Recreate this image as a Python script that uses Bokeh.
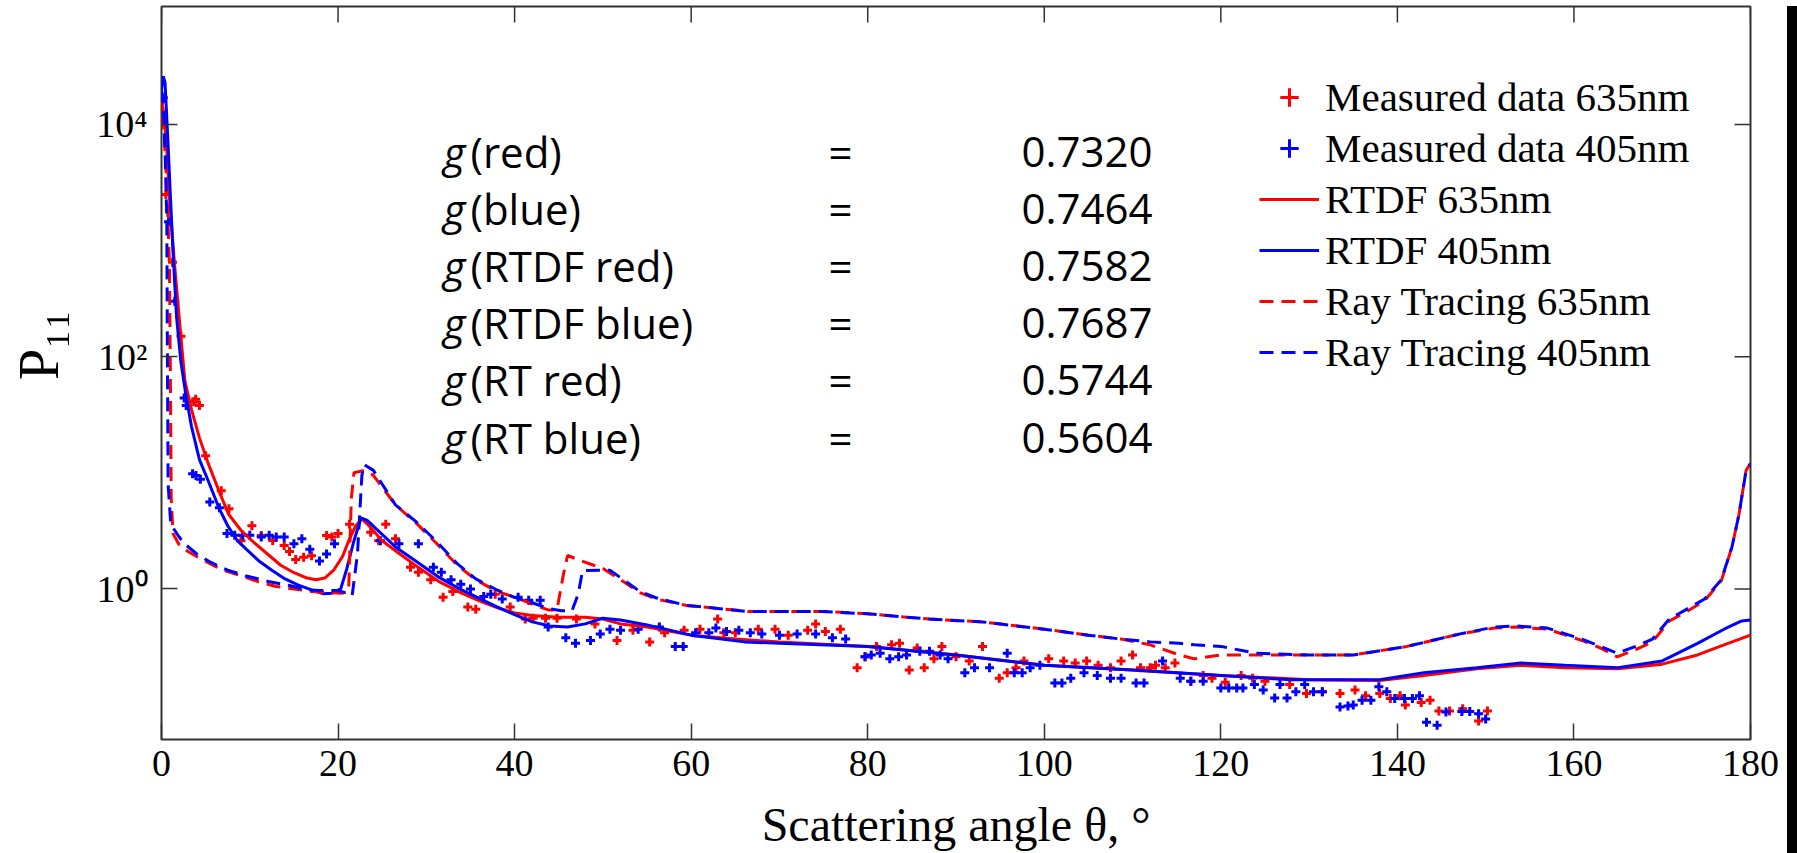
import math
from bokeh.plotting import figure
from bokeh.layouts import row
from bokeh.models import Range1d, FixedTicker, Label, Legend, LegendItem, Div
from bokeh.embed import file_html
from bokeh.resources import INLINE

# ---------------- data ----------------
RTDF_RED_THETA = [0, 0.3, 0.6, 0.85, 1.0, 1.5, 2.1, 2.65, 3.4, 4.3, 5.3, 6.5, 7.6, 9.0, 10.5, 12.0, 13.5,
                  15.0, 16.5, 17.5, 18.5, 19.5, 20.5, 21.3, 22.0, 22.7, 23.5, 25.0, 27.0, 29.0, 31.5, 34.0,
                  36.0, 38.0, 40.0, 42.0, 45.0, 48.0, 50.0, 52.0, 55.0, 60.0, 65.0, 70.0, 80.0, 90.0, 100.0,
                  110.0, 120.0, 130.0, 138.0, 143.0, 149.0, 154.0, 159.0, 165.0, 170.0, 174.0, 177.0, 180.0]
RTDF_RED_P = [16000, 12000, 6000, 2700, 1800, 600, 180, 62, 35, 20, 12, 7.0, 4.4, 3.2, 2.5, 2.0, 1.6,
              1.38, 1.24, 1.2, 1.24, 1.45, 1.9, 2.7, 3.5, 4.0, 3.5, 2.6, 2.0, 1.55, 1.15, 0.92,
              0.79, 0.69, 0.62, 0.59, 0.57, 0.57, 0.55, 0.50, 0.47, 0.40, 0.37, 0.35, 0.32, 0.27, 0.22,
              0.20, 0.18, 0.165, 0.163, 0.18, 0.205, 0.22, 0.21, 0.205, 0.225, 0.27, 0.33, 0.40]

RTDF_BLUE_THETA = [0, 0.2, 0.4, 0.7, 1.0, 1.3, 1.7, 2.2, 2.8, 3.4, 4.3, 5.3, 6.5, 7.5, 8.6, 9.6, 11.0, 12.5,
                   14.0, 15.5, 17.0, 18.3, 19.3, 20.3, 21.0, 21.8, 22.6, 23.3, 24.5, 26.5, 29.0, 31.5, 34.0,
                   36.0, 38.0, 40.0, 42.0, 44.0, 46.0, 48.0, 50.0, 52.0, 55.0, 60.0, 66.0, 70.0, 80.0, 90.0,
                   100.0, 110.0, 120.0, 128.0, 138.0, 143.0, 149.0, 154.0, 159.0, 165.0, 170.0, 174.0,
                   177.0, 179.0, 180.0]
RTDF_BLUE_P = [20000, 26000, 23000, 8000, 2500, 800, 222, 90, 45, 25, 13, 8.5, 5.0, 3.5, 2.6, 2.2, 1.75, 1.45,
               1.22, 1.08, 0.98, 0.91, 0.92, 1.0, 1.5, 2.6, 4.1, 3.9, 3.2, 2.3, 1.7, 1.25, 0.98,
               0.83, 0.70, 0.60, 0.52, 0.48, 0.47, 0.50, 0.56, 0.54, 0.49, 0.40, 0.35, 0.34, 0.32, 0.27,
               0.22, 0.20, 0.18, 0.165, 0.165, 0.19, 0.21, 0.23, 0.22, 0.21, 0.24, 0.34,
               0.45, 0.53, 0.54]

RT_RED_THETA = [0, 0.3, 0.6, 0.9, 1.0, 1.1, 1.3, 2.0, 3.0, 4.0, 5.5, 7.0, 9.0, 11.0, 13.0, 15.0, 17.0, 19.0,
                20.5, 21.2, 21.5, 21.8, 23.0, 24.0, 26.5, 29.0, 31.3, 33.5, 35.6, 38.0, 40.0, 42.0, 43.8,
                44.8, 45.5, 46.0, 47.5, 50.0, 52.0, 54.2, 56.0, 59.5, 63.0, 66.4, 70.0, 75.0, 80.0, 87.0,
                93.0, 100.0, 105.0, 108.7, 112.0, 115.3, 117.0, 120.0, 123.9, 130.0, 135.0, 141.1, 147.1,
                151.0, 153.4, 157.0, 160.9, 163.0, 164.9, 167.0, 168.9, 170.8, 172.5, 174.8, 176.7, 177.9,
                178.7, 179.5, 180.0]
RT_RED_P = [12000, 8000, 3000, 600, 80, 6, 3.0, 2.4, 2.1, 1.9, 1.65, 1.45, 1.3, 1.15, 1.05, 1.0, 0.95, 0.93,
            0.92, 0.95, 6.0, 10.0, 10.5, 9.5, 5.3, 3.6, 2.4, 1.6, 1.2, 0.95, 0.85, 0.74, 0.66,
            0.66, 1.3, 1.94, 1.75, 1.5, 1.2, 0.93, 0.82, 0.72, 0.68, 0.64, 0.64, 0.64, 0.61, 0.55,
            0.52, 0.45, 0.40, 0.37, 0.33, 0.27, 0.25, 0.27, 0.27, 0.27, 0.27, 0.32, 0.41,
            0.46, 0.47, 0.45, 0.36, 0.31, 0.26, 0.30, 0.35, 0.53, 0.62, 0.79, 1.18, 2.3,
            4.4, 10.5, 12]

RT_BLUE_THETA = [0, 0.2, 0.4, 0.6, 0.65, 0.75, 1.05, 2.0, 2.57, 4.0, 5.6, 7.5, 9.5, 12.1, 14.5, 16.4, 18.0,
                 19.9, 21.0, 21.6, 22.2, 22.7, 22.95, 24.0, 26.5, 29.0, 31.3, 33.5, 35.6, 38.0, 39.9, 42.0,
                 43.8, 45.3, 46.5, 47.2, 47.7, 50.8, 52.0, 54.2, 56.0, 59.5, 63.0, 66.4, 70.0, 75.0, 80.0,
                 87.0, 93.0, 100.0, 105.0, 108.7, 112.0, 115.3, 117.0, 120.0, 123.9, 130.0, 135.0, 141.1,
                 147.1, 151.0, 153.4, 157.0, 160.9, 163.0, 164.9, 167.0, 168.9, 170.8, 172.5, 174.8, 176.7,
                 177.9, 178.7, 179.5, 180.0]
RT_BLUE_P = [20000, 15000, 6000, 1500, 200, 8, 3.6, 2.8, 2.46, 2.0, 1.69, 1.45, 1.3, 1.16, 1.07, 0.98, 0.97,
             0.97, 0.92, 0.88, 2.0, 9.5, 11.8, 10.5, 5.3, 3.7, 2.5, 1.65, 1.22, 0.98, 0.85, 0.76,
             0.68, 0.65, 0.65, 0.9, 1.44, 1.45, 1.25, 0.95, 0.84, 0.72, 0.68, 0.64, 0.64, 0.64, 0.61,
             0.55, 0.52, 0.45, 0.40, 0.37, 0.35, 0.34, 0.33, 0.32, 0.28, 0.27, 0.27, 0.32,
             0.41, 0.47, 0.48, 0.46, 0.37, 0.32, 0.28, 0.32, 0.37, 0.55, 0.65, 0.82, 1.2,
             2.3, 4.4, 10.5, 12]

MEAS_RED_THETA = [0.1, 0.5, 1.25, 2.2, 3.65, 3.87, 4.3, 5.0, 6.77, 7.64, 9.0, 10.24, 11.3, 12.6, 13.9, 14.5,
                  15.2, 16.1, 17.0, 18.7, 19.3, 20.0, 21.3, 23.7, 24.6, 25.4, 26.5, 28.2, 29.1, 30.5, 31.9,
                  33.0, 34.7, 35.6, 37.8, 39.5, 41.2, 42.1, 43.5, 44.8, 47.0, 49.1, 51.6, 53.4, 55.3, 57.0,
                  59.2, 61.0, 63.0, 63.7, 65.0, 67.6, 69.5, 71.0, 73.2, 74.1, 75.2, 76.9, 78.8, 79.7, 81.0,
                  82.7, 83.6, 84.7, 85.6, 86.4, 87.5, 88.4, 90.0, 91.5, 93.0, 94.9, 95.8, 96.8, 97.7, 100.5,
                  102.2, 103.5, 104.8, 106.1, 107.5, 108.7, 110.0, 110.9, 112.0, 112.6, 113.7, 114.8, 116.6,
                  118.0, 119.0, 120.5, 122.3, 123.6, 125.0, 127.8, 129.7, 131.5, 133.5, 135.2, 136.4, 138.0,
                  139.2, 140.3, 140.9, 142.7, 143.7, 144.7, 145.9, 147.4, 149.2, 150.2]
MEAS_RED_P = [16000, 2500, 650, 150, 41, 43, 38, 14, 7.0, 4.9, 2.6, 3.5, 2.88, 2.61, 2.37, 2.1,
              1.79, 1.87, 1.93, 2.88, 2.8, 3.0, 3.6, 3.08, 2.6, 3.6, 2.7, 1.54, 1.39, 1.2, 0.85,
              0.95, 0.70, 0.67, 0.90, 0.70, 0.55, 0.56, 0.56, 0.56, 0.55, 0.50, 0.36, 0.44, 0.35, 0.42,
              0.44, 0.45, 0.55, 0.42, 0.42, 0.45, 0.45, 0.40, 0.44, 0.50, 0.43, 0.45, 0.21, 0.26, 0.32,
              0.33, 0.34, 0.20, 0.31, 0.21, 0.25, 0.32, 0.26, 0.24, 0.32, 0.17, 0.19, 0.21, 0.24, 0.25,
              0.24, 0.23, 0.24, 0.22, 0.21, 0.24, 0.27, 0.21, 0.21, 0.22, 0.21, 0.23, 0.16,
              0.18, 0.17, 0.157, 0.18, 0.17, 0.16, 0.15, 0.126, 0.13, 0.126, 0.135, 0.12, 0.126,
              0.114, 0.12, 0.10, 0.105, 0.11, 0.089, 0.089, 0.093, 0.073, 0.089]

MEAS_BLUE_THETA = [0.2, 0.8, 1.5, 2.57, 2.8, 3.52, 3.9, 4.4, 5.47, 6.56, 7.42, 8.3, 9.2, 10.0, 11.3, 12.2, 13.0,
                   13.9, 15.0, 15.9, 16.8, 17.9, 18.7, 19.6, 24.8, 26.9, 29.1, 30.8, 31.7, 32.8, 33.9, 35.0,
                   36.5, 37.3, 38.6, 40.4, 41.6, 42.9, 43.8, 45.8, 46.9, 48.6, 49.7, 50.8, 52.0, 54.0, 56.4,
                   58.2, 59.1, 60.5, 62.0, 62.8, 64.0, 65.4, 66.7, 68.0, 70.0, 72.0, 74.1, 76.0, 77.5, 79.7,
                   80.4, 81.4, 82.5, 83.5, 84.4, 85.9, 87.0, 88.2, 89.1, 91.0, 92.1, 93.8, 95.8, 96.6, 97.5,
                   98.4, 99.5, 101.2, 102.0, 103.0, 104.5, 106.0, 107.5, 108.7, 110.4, 111.3, 113.4, 115.4,
                   116.6, 118.0, 120.0, 120.9, 121.8, 122.5, 123.8, 124.8, 126.1, 126.7, 127.5, 128.5, 129.5,
                   130.5, 131.5, 133.5, 134.4, 135.0, 136.0, 137.0, 137.9, 138.8, 139.7, 140.8, 141.7, 142.5,
                   143.3, 144.5, 145.5, 147.3, 148.2, 149.2, 150.0]
MEAS_BLUE_P = [17000, 1450, 300, 44, 38, 9.8, 9.5, 8.8, 5.6, 5.0, 3.0, 2.9, 2.9, 2.9, 2.8, 2.9, 2.8,
               2.8, 2.45, 2.7, 2.2, 1.74, 2.0, 2.45, 2.6, 2.45, 2.45, 1.54, 1.39, 1.2, 1.1, 1.0,
               0.86, 0.90, 0.82, 0.85, 0.80, 0.80, 0.47, 0.38, 0.34, 0.36, 0.41, 0.45, 0.44, 0.45, 0.47,
               0.32, 0.32, 0.42, 0.42, 0.46, 0.43, 0.44, 0.42, 0.41, 0.40, 0.41, 0.41, 0.38, 0.37, 0.26,
               0.27, 0.28, 0.25, 0.26, 0.27, 0.29, 0.29, 0.27, 0.25, 0.19, 0.21, 0.21, 0.28, 0.19, 0.19,
               0.21, 0.22, 0.155, 0.155, 0.17, 0.19, 0.18, 0.17, 0.17, 0.155, 0.155, 0.24, 0.17,
               0.16, 0.16, 0.14, 0.14, 0.14, 0.14, 0.15, 0.135, 0.115, 0.15, 0.115, 0.13, 0.15,
               0.13, 0.13, 0.096, 0.098, 0.10, 0.11, 0.11, 0.144, 0.13, 0.114, 0.114, 0.114, 0.12,
               0.071, 0.067, 0.087, 0.088, 0.088, 0.084, 0.076]

X_TICKS = [0, 20, 40, 60, 80, 100, 120, 140, 160, 180]
Y_TICKS = [1, 100, 10000]
Y_TICK_LABELS = {1: "10⁰", 100: "10²", 10000: "10⁴"}
G_NAMES = ["(red)", "(blue)", "(RTDF red)", "(RTDF blue)", "(RT red)", "(RT blue)"]
G_VALUES = ["0.7320", "0.7464", "0.7582", "0.7687", "0.5744", "0.5604"]
LEGEND_LABELS = ["Measured data 635nm", "Measured data 405nm", "RTDF 635nm", "RTDF 405nm",
                 "Ray Tracing 635nm", "Ray Tracing 405nm"]
X_LABEL = "Scattering angle θ, °"
Y_LABEL = "P₁₁"

RED = "#ff0000"
BLUE = "#0000ff"
AX = "#333333"
SERIF = "Liberation Serif"
SANS = "Open Sans"

# ---------------- figure (page coordinates = figure coordinates) ----------------
FIG_W, FIG_H = 1787, 853
FRAME_L, FRAME_R, FRAME_T, FRAME_B = 161, 1750, 6, 739
X0, X1 = 0, 180
Y0, Y1 = 0.0505, 1.038e5
TICK = 16

p = figure(width=FIG_W, height=FIG_H, y_axis_type="log",
           x_range=Range1d(X0, X1), y_range=Range1d(Y0, Y1),
           output_backend="svg", toolbar_location=None,
           min_border_left=FRAME_L, min_border_right=FIG_W - FRAME_R,
           min_border_top=FRAME_T, min_border_bottom=FIG_H - FRAME_B)
p.xgrid.grid_line_color = None
p.ygrid.grid_line_color = None
p.outline_line_color = AX
p.outline_line_width = 2
p.background_fill_color = "white"
p.border_fill_color = "white"

DX_PER_PX = (X1 - X0) / (FRAME_R - FRAME_L)
DLOG_PER_PX = (math.log10(Y1) - math.log10(Y0)) / (FRAME_B - FRAME_T)


def px_to_x(px):
    return X0 + (px - FRAME_L) * DX_PER_PX


def py_to_y(py):
    return 10 ** (math.log10(Y1) - (py - FRAME_T) * DLOG_PER_PX)


for ax in (p.xaxis[0], p.yaxis[0]):
    ax.axis_line_color = None
    ax.major_tick_in = TICK
    ax.major_tick_out = 0
    ax.major_tick_line_color = AX
    ax.major_tick_line_width = 1.5
    ax.minor_tick_line_color = None
    ax.major_label_text_font = SERIF
    ax.major_label_text_font_size = "38px"
    ax.major_label_text_color = "black"
    ax.axis_label_text_font = SERIF
    ax.axis_label_text_font_style = "normal"
    ax.axis_label_text_color = "black"

xax = p.xaxis[0]
xax.ticker = FixedTicker(ticks=X_TICKS, minor_ticks=[])
xax.major_label_standoff = 11
xax.axis_label = X_LABEL
xax.axis_label_text_font_size = "48px"
xax.axis_label_standoff = 19

yax = p.yaxis[0]
yax.ticker = FixedTicker(ticks=Y_TICKS, minor_ticks=[])
yax.major_label_overrides = Y_TICK_LABELS
yax.major_label_standoff = 14
# leading no-break spaces move the visible label up a little, as in the original
yax.axis_label = "\u00a0" * 4 + Y_LABEL
yax.axis_label_text_font_size = "56px"
yax.axis_label_standoff = 23

# mirrored tick marks on the top and right edges of the box
top_len = 10 ** (TICK * DLOG_PER_PX)
p.segment(x0=X_TICKS, y0=[Y1] * len(X_TICKS), x1=X_TICKS, y1=[Y1 / top_len] * len(X_TICKS),
          line_color=AX, line_width=1.5)
p.segment(x0=[X1] * len(Y_TICKS), y0=Y_TICKS, x1=[X1 - TICK * DX_PER_PX] * len(Y_TICKS), y1=Y_TICKS,
          line_color=AX, line_width=1.5)

# ---------------- series ----------------
r_mr = p.scatter(MEAS_RED_THETA, MEAS_RED_P, marker="cross", size=9, line_width=3, color=RED)
r_mb = p.scatter(MEAS_BLUE_THETA, MEAS_BLUE_P, marker="cross", size=9, line_width=3, color=BLUE)
r_tr = p.line(RTDF_RED_THETA, RTDF_RED_P, line_color=RED, line_width=3)
r_tb = p.line(RTDF_BLUE_THETA, RTDF_BLUE_P, line_color=BLUE, line_width=3)
r_rr = p.line(RT_RED_THETA, RT_RED_P, line_color=RED, line_width=3, line_dash="14 8")
r_rb = p.line(RT_BLUE_THETA, RT_BLUE_P, line_color=BLUE, line_width=3, line_dash="14 8")

legend = Legend(items=[LegendItem(label=LEGEND_LABELS[i], renderers=[r])
                       for i, r in enumerate([r_mr, r_mb, r_tr, r_tb, r_rr, r_rb])],
                location=(1259 - FRAME_L, FRAME_B - 376),
                border_line_color=None, background_fill_alpha=0,
                label_text_font=SERIF, label_text_font_size="41px", label_text_color="black",
                glyph_width=60, glyph_height=46, label_height=46, label_standoff=6,
                spacing=3, padding=0, margin=0)
p.add_layout(legend)

# ---------------- g-value annotations ----------------
ROW_BASE = [151, 208, 265, 322, 379, 437]
for i, base in enumerate(ROW_BASE):
    yb = py_to_y(base)
    p.add_layout(Label(x=px_to_x(443), y=yb, text="g", text_font=SANS, text_font_style="italic",
                       text_font_size="42px", text_baseline="alphabetic", text_color="black"))
    p.add_layout(Label(x=px_to_x(470), y=yb, text=G_NAMES[i], text_font=SANS,
                       text_font_size="42px", text_baseline="alphabetic", text_color="black"))
    p.add_layout(Label(x=px_to_x(840), y=yb, text="=", text_font=SANS, text_align="center",
                       text_font_size="42px", text_baseline="alphabetic", text_color="black"))
    p.add_layout(Label(x=px_to_x(1021), y=yb, text=G_VALUES[i], text_font=SANS,
                       text_font_size="42px", text_baseline="alphabetic", text_color="black"))

# black strip at the right edge of the original picture
strip = Div(width=10, height=FIG_H - 6, margin=(6, 0, 0, 0), styles={"background-color": "black"})
page = row(p, strip, spacing=0)

open("out.html", "w").write(file_html(page, INLINE))
